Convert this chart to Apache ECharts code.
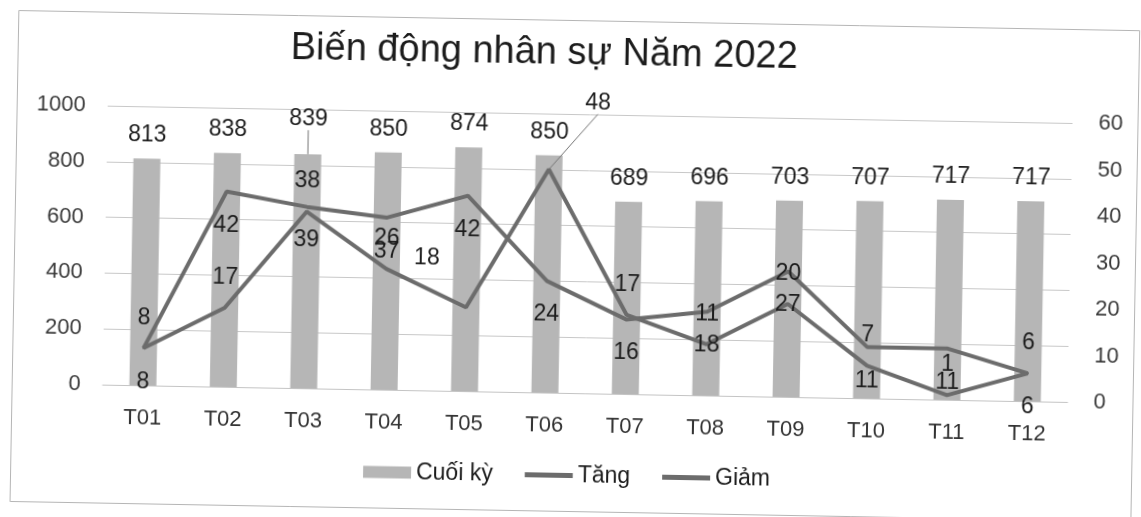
<!DOCTYPE html>
<html>
<head>
<meta charset="utf-8">
<script src="https://cdn.jsdelivr.net/npm/echarts@6/dist/echarts.min.js"></script>
<style>
html,body{margin:0;padding:0;background:#fff;overflow:hidden;}
#c{width:1141px;height:517px;transform:rotate(1.03deg);transform-origin:50% 50%;}
</style>
</head>
<body>
<div id="c"></div>
<script>
const categories = ['T01','T02','T03','T04','T05','T06','T07','T08','T09','T10','T11','T12'];
const cuoiKy = [813, 838, 839, 850, 874, 850, 689, 696, 703, 707, 717, 717];
const tang = [8, 42, 39, 37, 42, 24, 16, 18, 27, 11, 11, 6];
const giam = [8, 17, 38, 26, 18, 48, 17, 11, 20, 7, 1, 6];
const titleText = 'Biến động nhân sự Năm 2022';
const seriesNames = ['Cuối kỳ', 'Tăng', 'Giảm'];

const FONT = 'Liberation Sans, Arial, sans-serif';
const TXT = '#1c1c1c';
const BAR = '#b6b6b6';
const LINE = '#6c6c6c';

const chart = echarts.init(document.getElementById('c'), null, {renderer: 'canvas'});

const barData = cuoiKy.map((v, i) => i === 2 ? {value: v, labelLine: {show: true, lineStyle: {color: '#777', width: 1}}} : v);
const giamData = giam.map((v, i) => i === 5 ? {value: v, labelLine: {show: true, lineStyle: {color: '#777', width: 1}}} : v);

chart.setOption({
  animation: false,
  backgroundColor: '#ffffff',
  textStyle: {fontFamily: FONT},
  title: {
    text: titleText,
    left: 282,
    top: 30,
    textStyle: {fontSize: 38, fontWeight: 'normal', color: TXT, fontFamily: FONT}
  },
  graphic: [{
    type: 'rect', left: 12, top: 18, z: -10,
    shape: {width: 1121, height: 491},
    style: {fill: 'none', stroke: '#b5b5b5', lineWidth: 1}
  }],
  legend: {
    bottom: 25,
    left: 'center',
    itemWidth: 48,
    itemHeight: 12,
    itemGap: 32,
    textStyle: {fontSize: 23, color: TXT, fontFamily: FONT},
    data: [
      {name: seriesNames[0], icon: 'rect'},
      {name: seriesNames[1], icon: 'path://M0,0H50V5H0Z'},
      {name: seriesNames[2], icon: 'path://M0,0H50V5H0Z'}
    ]
  },
  grid: {left: 105, right: 71, top: 114, bottom: 124, containLabel: false, outerBoundsMode: 'none'},
  xAxis: {
    type: 'category',
    data: categories,
    axisLine: {show: true, lineStyle: {color: '#c4c4c4', width: 1}},
    axisTick: {show: false},
    axisLabel: {fontSize: 22, color: '#333', margin: 22, fontFamily: FONT}
  },
  yAxis: [{
    type: 'value', min: 0, max: 1000, interval: 200,
    axisLine: {show: false}, axisTick: {show: false},
    splitLine: {show: true, lineStyle: {color: '#c8c8c8', width: 1}},
    axisLabel: {fontSize: 22, color: '#3a3a3a', margin: 22, fontFamily: FONT, formatter: v => String(v)}
  }, {
    type: 'value', min: 0, max: 60, interval: 10,
    alignTicks: false,
    axisLine: {show: false}, axisTick: {show: false},
    splitLine: {show: false},
    axisLabel: {fontSize: 22, color: '#3a3a3a', margin: 26, fontFamily: FONT}
  }],
  series: [{
    name: seriesNames[0],
    type: 'bar',
    data: barData,
    barWidth: 27,
    itemStyle: {color: BAR},
    label: {show: true, position: 'top', distance: 12, fontSize: 23, color: TXT, fontFamily: FONT},
    labelLayout: function (p) { return p.dataIndex === 2 ? {dy: -12} : {}; },
    z: 1
  }, {
    name: seriesNames[1],
    type: 'line',
    yAxisIndex: 1,
    data: tang,
    symbol: 'circle',
    symbolSize: 2,
    lineStyle: {color: LINE, width: 4},
    itemStyle: {color: LINE},
    label: {show: true, position: 'bottom', distance: 21, fontSize: 23, color: TXT, fontFamily: FONT},
    z: 3
  }, {
    name: seriesNames[2],
    type: 'line',
    yAxisIndex: 1,
    data: giamData,
    symbol: 'circle',
    symbolSize: 2,
    lineStyle: {color: LINE, width: 4},
    itemStyle: {color: LINE},
    label: {show: true, position: 'top', distance: 18, fontSize: 23, color: TXT, fontFamily: FONT},
    labelLayout: function (p) {
      if (p.dataIndex === 4) return {dx: -40, dy: -18};
      if (p.dataIndex === 5) return {dx: 48, dy: -37};
      return {};
    },
    z: 3
  }]
});
</script>
</body>
</html>
